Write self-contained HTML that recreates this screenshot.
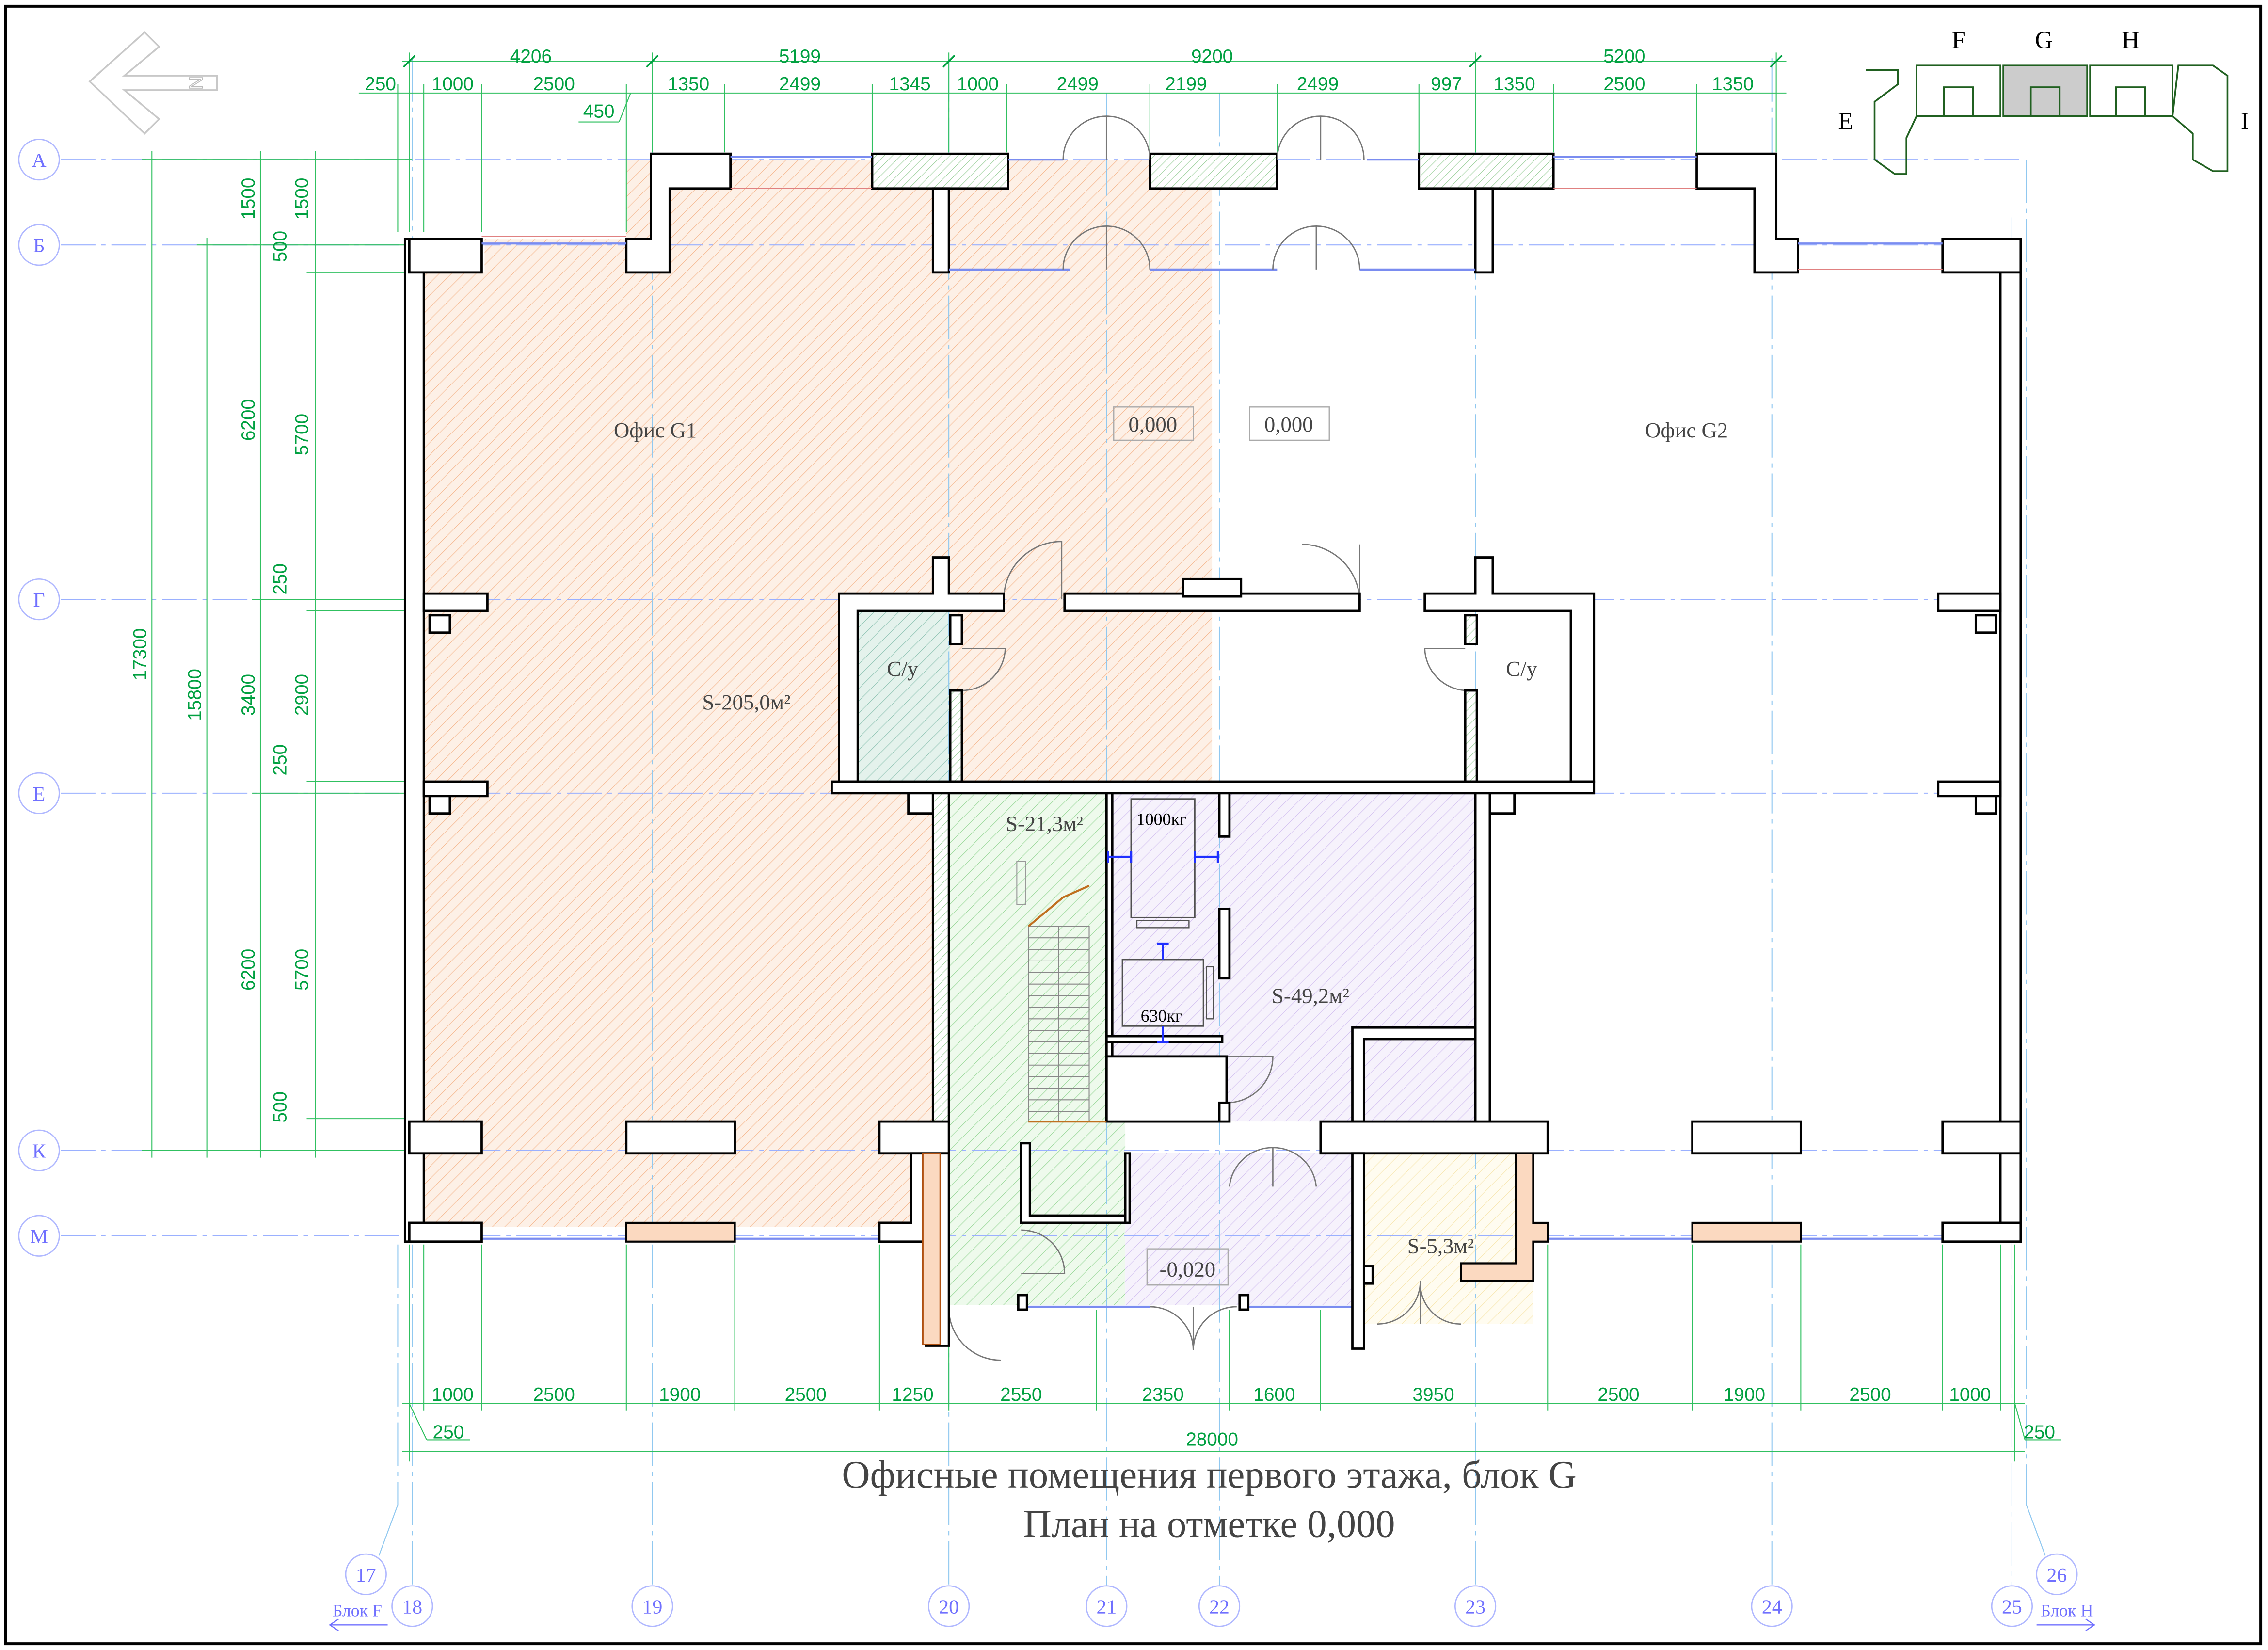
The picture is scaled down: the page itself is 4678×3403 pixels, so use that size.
<!DOCTYPE html>
<html><head><meta charset="utf-8"><style>
html,body{margin:0;padding:0;background:#fff}
svg{display:block}
.d{font-family:"Liberation Sans",sans-serif;font-size:13px;fill:#00a040;text-anchor:middle}
.t{font-family:"Liberation Serif",serif;fill:#444;text-anchor:middle}
.b{font-family:"Liberation Serif",serif;font-size:14px;fill:#7070ff;text-anchor:middle}
.w{fill:#fff;stroke:#000;stroke-width:1.6}
.wh{fill:url(#wh);stroke:#000;stroke-width:1.6}
.gl{stroke:#30c060;stroke-width:0.7}
</style></head><body>
<svg width="4678" height="3403" viewBox="0 0 1568 1140" xmlns="http://www.w3.org/2000/svg">
<defs>
<pattern id="ho" width="6" height="6" patternUnits="userSpaceOnUse" patternTransform="rotate(45)"><rect width="6" height="6" fill="#fdf0e6"/><line x1="0" y1="0" x2="0" y2="6" stroke="#f5b890" stroke-width="0.8"/></pattern>
<pattern id="hg" width="6" height="6" patternUnits="userSpaceOnUse" patternTransform="rotate(45)"><rect width="6" height="6" fill="#eefaec"/><line x1="0" y1="0" x2="0" y2="6" stroke="#9ad89a" stroke-width="0.8"/></pattern>
<pattern id="hp" width="6" height="6" patternUnits="userSpaceOnUse" patternTransform="rotate(45)"><rect width="6" height="6" fill="#f6f2fc"/><line x1="0" y1="0" x2="0" y2="6" stroke="#d4c2f0" stroke-width="0.8"/></pattern>
<pattern id="ht" width="6" height="6" patternUnits="userSpaceOnUse" patternTransform="rotate(45)"><rect width="6" height="6" fill="#e4f2ec"/><line x1="0" y1="0" x2="0" y2="6" stroke="#90c4b4" stroke-width="0.8"/></pattern>
<pattern id="hy" width="6" height="6" patternUnits="userSpaceOnUse" patternTransform="rotate(45)"><rect width="6" height="6" fill="#fffcf0"/><line x1="0" y1="0" x2="0" y2="6" stroke="#f7e6b0" stroke-width="0.8"/></pattern>
<pattern id="wh" width="4" height="4" patternUnits="userSpaceOnUse" patternTransform="rotate(45)"><rect width="4" height="4" fill="#fff"/><line x1="0" y1="0" x2="0" y2="4" stroke="#9cd09c" stroke-width="0.8"/></pattern>
</defs>
<rect x="0" y="0" width="1568" height="1140" fill="#fff"/>
<rect x="4" y="4" width="1559" height="1132" fill="none" stroke="#000" stroke-width="2"/>

<polygon points="293,188 335,188 335,165 433,165 433,110 838,110 838,540 645,540 645,848 293,848" fill="url(#ho)"/>
<rect x="593" y="422" width="64" height="118" fill="url(#ht)"/>
<rect x="656" y="548" width="122" height="354" fill="url(#hg)"/>
<polygon points="765,548 1020,548 1020,775 765,775" fill="url(#hp)"/>
<rect x="778" y="797" width="162" height="105" fill="url(#hp)"/>
<rect x="940" y="797" width="120" height="118" fill="url(#hy)"/>

<g stroke="#9ab0ff" stroke-width="0.7" stroke-dasharray="24 4 3 4">
<line x1="42" y1="110" x2="1400" y2="110"/><line x1="42" y1="169" x2="1400" y2="169"/>
<line x1="42" y1="414" x2="1400" y2="414"/><line x1="42" y1="548" x2="1400" y2="548"/>
<line x1="42" y1="795" x2="1400" y2="795"/><line x1="42" y1="854" x2="1400" y2="854"/>
</g>
<g stroke="#90c8f0" stroke-width="0.7" stroke-dasharray="30 4 3 4">
<line x1="285" y1="40" x2="285" y2="1096"/><line x1="451" y1="40" x2="451" y2="1096"/>
<line x1="656" y1="40" x2="656" y2="1096"/><line x1="765" y1="64" x2="765" y2="1096"/>
<line x1="843" y1="64" x2="843" y2="1096"/><line x1="1020" y1="40" x2="1020" y2="1096"/>
<line x1="1225" y1="40" x2="1225" y2="1096"/><line x1="1391" y1="150" x2="1391" y2="1096"/>
<line x1="275" y1="860" x2="275" y2="1040"/><line x1="1401" y1="110" x2="1401" y2="1040"/>
</g>
<line x1="275" y1="1040" x2="262" y2="1075" stroke="#90c8f0" stroke-width="0.7"/>
<line x1="1401" y1="1040" x2="1414" y2="1075" stroke="#90c8f0" stroke-width="0.7"/>

<g class="gl">
<line x1="278" y1="42" x2="1235" y2="42"/><line x1="248" y1="64" x2="1235" y2="64"/>
<line x1="283" y1="36" x2="283" y2="160"/><line x1="451" y1="36" x2="451" y2="105"/>
<line x1="656" y1="36" x2="656" y2="105"/><line x1="1020" y1="36" x2="1020" y2="105"/>
<line x1="1228" y1="36" x2="1228" y2="105"/>
<line x1="275" y1="58" x2="275" y2="160"/><line x1="293" y1="58" x2="293" y2="160"/>
<line x1="333" y1="58" x2="333" y2="160"/><line x1="433" y1="58" x2="433" y2="160"/>
<line x1="501" y1="58" x2="501" y2="105"/><line x1="603" y1="58" x2="603" y2="105"/>
<line x1="696" y1="58" x2="696" y2="105"/><line x1="795" y1="58" x2="795" y2="105"/>
<line x1="883" y1="58" x2="883" y2="105"/><line x1="981" y1="58" x2="981" y2="105"/>
<line x1="1074" y1="58" x2="1074" y2="105"/><line x1="1173" y1="58" x2="1173" y2="105"/>
<line x1="400" y1="84" x2="428" y2="84"/><line x1="428" y1="84" x2="436" y2="64"/>
<line x1="105" y1="104" x2="105" y2="800"/><line x1="143" y1="164" x2="143" y2="800"/>
<line x1="180" y1="104" x2="180" y2="800"/><line x1="218" y1="104" x2="218" y2="800"/>
<line x1="98" y1="110" x2="285" y2="110"/><line x1="136" y1="169" x2="285" y2="169"/>
<line x1="98" y1="795" x2="285" y2="795"/><line x1="174" y1="414" x2="285" y2="414"/>
<line x1="174" y1="548" x2="285" y2="548"/><line x1="212" y1="188" x2="285" y2="188"/>
<line x1="212" y1="422" x2="285" y2="422"/><line x1="212" y1="540" x2="285" y2="540"/>
<line x1="212" y1="773" x2="285" y2="773"/>
<line x1="278" y1="970" x2="1400" y2="970"/><line x1="278" y1="1003" x2="1400" y2="1003"/>
<line x1="283" y1="860" x2="283" y2="1010"/><line x1="293" y1="860" x2="293" y2="975"/>
<line x1="333" y1="860" x2="333" y2="975"/><line x1="433" y1="860" x2="433" y2="975"/>
<line x1="508" y1="860" x2="508" y2="975"/><line x1="608" y1="860" x2="608" y2="975"/>
<line x1="656" y1="905" x2="656" y2="975"/><line x1="758" y1="905" x2="758" y2="975"/>
<line x1="850" y1="905" x2="850" y2="975"/><line x1="913" y1="905" x2="913" y2="975"/>
<line x1="1070" y1="860" x2="1070" y2="975"/><line x1="1170" y1="860" x2="1170" y2="975"/>
<line x1="1245" y1="860" x2="1245" y2="975"/><line x1="1343" y1="860" x2="1343" y2="975"/>
<line x1="1383" y1="860" x2="1383" y2="975"/><line x1="1393" y1="860" x2="1393" y2="1010"/>
<line x1="283" y1="970" x2="295" y2="995"/><line x1="295" y1="995" x2="325" y2="995"/>
<line x1="1393" y1="970" x2="1400" y2="995"/><line x1="1400" y1="995" x2="1425" y2="995"/>
</g>
<g stroke="#00a040" stroke-width="1.2">
<line x1="279" y1="46" x2="287" y2="38"/><line x1="447" y1="46" x2="455" y2="38"/><line x1="652" y1="46" x2="660" y2="38"/><line x1="1016" y1="46" x2="1024" y2="38"/><line x1="1224" y1="46" x2="1232" y2="38"/>
</g>

<g class="d">
<text x="367" y="43">4206</text><text x="553" y="43">5199</text><text x="838" y="43">9200</text><text x="1123" y="43">5200</text>
<text x="263" y="62">250</text><text x="313" y="62">1000</text><text x="383" y="62">2500</text><text x="476" y="62">1350</text>
<text x="553" y="62">2499</text><text x="629" y="62">1345</text><text x="676" y="62">1000</text><text x="745" y="62">2499</text>
<text x="820" y="62">2199</text><text x="911" y="62">2499</text><text x="1000" y="62">997</text><text x="1047" y="62">1350</text>
<text x="1123" y="62">2500</text><text x="1198" y="62">1350</text><text x="414" y="81">450</text>
<text x="313" y="968">1000</text><text x="383" y="968">2500</text><text x="470" y="968">1900</text><text x="557" y="968">2500</text>
<text x="631" y="968">1250</text><text x="706" y="968">2550</text><text x="804" y="968">2350</text><text x="881" y="968">1600</text>
<text x="991" y="968">3950</text><text x="1119" y="968">2500</text><text x="1206" y="968">1900</text><text x="1293" y="968">2500</text>
<text x="1362" y="968">1000</text><text x="310" y="994">250</text><text x="1410" y="994">250</text><text x="838" y="999">28000</text>
<text transform="translate(101,452) rotate(-90)">17300</text>
<text transform="translate(139,480) rotate(-90)">15800</text>
<text transform="translate(176,137) rotate(-90)">1500</text>
<text transform="translate(176,290) rotate(-90)">6200</text>
<text transform="translate(176,480) rotate(-90)">3400</text>
<text transform="translate(176,670) rotate(-90)">6200</text>
<text transform="translate(213,137) rotate(-90)">1500</text>
<text transform="translate(198,170) rotate(-90)">500</text>
<text transform="translate(213,300) rotate(-90)">5700</text>
<text transform="translate(198,400) rotate(-90)">250</text>
<text transform="translate(213,480) rotate(-90)">2900</text>
<text transform="translate(198,525) rotate(-90)">250</text>
<text transform="translate(213,670) rotate(-90)">5700</text>
<text transform="translate(198,765) rotate(-90)">500</text>
</g>

<g>
<rect class="w" x="280" y="165" width="13" height="693"/>
<rect class="w" x="1383" y="165" width="14" height="693"/>
<rect class="w" x="283" y="165" width="50" height="23"/>
<rect class="w" x="1343" y="165" width="54" height="23"/>
<path class="w" d="M433,165 H450 V106 H505 V130 H463 V188 H433 Z"/>
<path class="w" d="M1173,106 H1228 V165 H1243 V188 H1213 V130 H1173 Z"/>
<rect class="wh" x="603" y="106" width="94" height="24"/>
<rect class="wh" x="795" y="106" width="88" height="24"/>
<rect class="wh" x="981" y="106" width="93" height="24"/>
<rect class="w" x="645" y="130" width="11" height="58"/>
<rect class="w" x="1020" y="130" width="12" height="58"/>
<g stroke="#7a8cf0" stroke-width="1.4">
<line x1="505" y1="108" x2="603" y2="108"/><line x1="697" y1="110" x2="735" y2="110"/>
<line x1="945" y1="110" x2="981" y2="110"/><line x1="1074" y1="108" x2="1173" y2="108"/>
<line x1="333" y1="168" x2="433" y2="168"/><line x1="1243" y1="168" x2="1343" y2="168"/>
<line x1="656" y1="186" x2="740" y2="186"/><line x1="795" y1="186" x2="883" y2="186"/><line x1="940" y1="186" x2="1020" y2="186"/>
<line x1="333" y1="856" x2="433" y2="856"/><line x1="508" y1="856" x2="608" y2="856"/>
<line x1="1070" y1="856" x2="1170" y2="856"/><line x1="1245" y1="856" x2="1343" y2="856"/>
<line x1="710" y1="903" x2="795" y2="903"/><line x1="862" y1="903" x2="935" y2="903"/>
</g>
<g stroke="#e08080" stroke-width="0.8">
<line x1="505" y1="130" x2="603" y2="130"/><line x1="1074" y1="130" x2="1173" y2="130"/>
<line x1="1243" y1="186" x2="1343" y2="186"/><line x1="333" y1="163" x2="433" y2="163"/>
</g>
<g fill="none" stroke="#777" stroke-width="0.9">
<path d="M735,110 A30,30 0 0 1 765,80 V110"/><path d="M795,110 A30,30 0 0 0 765,80"/>
<path d="M883,110 A30,30 0 0 1 913,80 V110"/><path d="M943,110 A30,30 0 0 0 913,80"/>
<path d="M735,186 A30,30 0 0 1 765,156 V186"/><path d="M795,186 A30,30 0 0 0 765,156"/>
<path d="M880,186 A30,30 0 0 1 910,156 V186"/><path d="M940,186 A30,30 0 0 0 910,156"/>
<path d="M694,414 A40,40 0 0 1 734,374 V414"/><path d="M940,414 A40,40 0 0 0 900,376 M940,376 V414"/>
<path d="M665,477 A30,30 0 0 0 695,448 H665"/><path d="M1013,477 A30,30 0 0 1 985,448 H1013"/>
<path d="M848,730 H880 A32,32 0 0 1 848,762"/>
<path d="M850,820 A30,30 0 0 1 880,793 V820 M910,820 A30,30 0 0 0 880,793"/>
<path d="M706,850 A30,30 0 0 1 736,880 H706"/>
<path d="M656,903 A36,36 0 0 0 692,940"/>
<path d="M795,903 A30,30 0 0 1 825,933 V903 M855,903 A30,30 0 0 0 825,933"/>
<path d="M952,915 A30,30 0 0 0 982,885 V915 M1010,915 A28,28 0 0 1 982,885"/>
</g>
<path class="w" d="M580,410 H645 V385 H656 V410 H694 V422 H593 V540 H580 Z"/>
<rect class="w" x="736" y="410" width="204" height="12"/>
<rect class="w" x="818" y="400" width="40" height="12"/>
<path class="w" d="M985,410 H1020 V385 H1032 V410 H1102 V540 H1086 V422 H985 Z"/>
<rect class="w" x="293" y="410" width="44" height="12"/><rect class="w" x="1340" y="410" width="43" height="12"/>
<rect class="w" x="297" y="425" width="14" height="12"/><rect class="w" x="1366" y="425" width="14" height="12"/>
<rect class="w" x="657" y="425" width="8" height="20"/><rect class="wh" x="657" y="477" width="8" height="63"/>
<rect class="wh" x="1013" y="425" width="8" height="20"/><rect class="wh" x="1013" y="477" width="8" height="63"/>
<rect class="w" x="575" y="540" width="527" height="8"/>
<rect class="w" x="293" y="540" width="44" height="10"/><rect class="w" x="1340" y="540" width="43" height="10"/>
<rect class="w" x="297" y="550" width="14" height="12"/><rect class="w" x="1366" y="550" width="14" height="12"/>
<rect class="w" x="628" y="548" width="17" height="14"/><rect class="w" x="1030" y="548" width="17" height="14"/>
<rect class="wh" x="645" y="548" width="11" height="250"/>
<rect class="w" x="1020" y="548" width="10" height="230"/>
<rect class="w" x="765" y="548" width="4" height="227"/>
<rect class="w" x="843" y="548" width="7" height="30"/>
<rect class="w" x="843" y="628" width="7" height="48"/>
<rect class="w" x="765" y="716" width="80" height="4"/>
<rect class="w" x="765" y="730" width="83" height="45"/>
<rect class="w" x="843" y="762" width="7" height="13"/>
<path class="w" d="M935,710 H1020 V718 H943 V775 H935 Z"/>
<rect x="782" y="552" width="44" height="82" fill="none" stroke="#505050" stroke-width="1"/>
<rect x="786" y="636" width="36" height="5" fill="none" stroke="#505050" stroke-width="0.8"/>
<rect x="776" y="663" width="56" height="46" fill="none" stroke="#505050" stroke-width="1"/>
<rect x="834" y="668" width="5" height="36" fill="none" stroke="#505050" stroke-width="0.8"/>
<g stroke="#2030ff" stroke-width="1.5">
<line x1="766" y1="592" x2="782" y2="592"/><line x1="766" y1="588" x2="766" y2="596"/><line x1="782" y1="588" x2="782" y2="596"/>
<line x1="826" y1="592" x2="842" y2="592"/><line x1="826" y1="588" x2="826" y2="596"/><line x1="842" y1="588" x2="842" y2="596"/>
<line x1="804" y1="652" x2="804" y2="663"/><line x1="800" y1="652" x2="808" y2="652"/>
<line x1="804" y1="709" x2="804" y2="720"/><line x1="800" y1="720" x2="808" y2="720"/>
</g>
<g stroke="#888" stroke-width="0.7" fill="none">
<rect x="711" y="640" width="42" height="135"/>
<path d="M711,648 H753 M711,656 H753 M711,664 H753 M711,672 H753 M711,680 H753 M711,688 H753 M711,696 H753 M711,704 H753 M711,712 H753 M711,720 H753 M711,728 H753 M711,736 H753 M711,744 H753 M711,752 H753 M711,760 H753 M711,768 H753"/>
<line x1="732" y1="640" x2="732" y2="775"/>
</g>
<path d="M711,640 L735,620 L753,612" stroke="#c07020" stroke-width="1.4" fill="none"/>
<line x1="711" y1="775" x2="765" y2="775" stroke="#c07020" stroke-width="1.4"/>
<path d="M706,790 V845 H778 V840 H712 V790 Z" class="w"/>
<rect x="703" y="595" width="6" height="30" fill="none" stroke="#999" stroke-width="0.7"/>
<rect class="w" x="283" y="775" width="50" height="22"/>
<rect class="w" x="433" y="775" width="75" height="22"/>
<rect class="w" x="608" y="775" width="48" height="22"/>
<rect class="w" x="913" y="775" width="157" height="22"/>
<rect class="w" x="1170" y="775" width="75" height="22"/>
<rect class="w" x="1343" y="775" width="54" height="22"/>
<rect class="w" x="283" y="845" width="50" height="13"/>
<rect fill="#fbd9c0" stroke="#000" stroke-width="1.4" x="433" y="845" width="75" height="13"/>
<path class="w" d="M608,845 H630 V797 H656 V930 H640 V858 H608 Z"/>
<rect fill="#fbd9c0" stroke="#b05010" stroke-width="1" x="638" y="797" width="12" height="132"/>
<rect fill="#fbd9c0" stroke="#000" stroke-width="1.4" x="1170" y="845" width="75" height="13"/>
<rect class="w" x="1343" y="845" width="54" height="13"/>
<rect class="w" x="935" y="797" width="8" height="135"/>
<rect class="w" x="943" y="875" width="6" height="12"/>
<path d="M1048,797 H1060 V845 H1070 V858 H1060 V885 H1010 V873 H1048 Z" fill="#fbd9c0" stroke="#000" stroke-width="1.4"/>
<rect class="w" x="778" y="797" width="3" height="48"/>
<rect class="w" x="704" y="895" width="6" height="10"/>
<rect class="w" x="857" y="895" width="6" height="10"/>
</g>

<g class="t" font-size="15">
<text x="453" y="302">Офис G1</text><text x="1166" y="302">Офис G2</text>
<text x="624" y="467">С/у</text><text x="1052" y="467">С/у</text>
<text x="516" y="490">S-205,0м²</text><text x="722" y="574">S-21,3м²</text>
<text x="906" y="693">S-49,2м²</text><text x="996" y="866">S-5,3м²</text>
<text x="821" y="882">-0,020</text>
<text x="797" y="298">0,000</text><text x="891" y="298">0,000</text>
</g>
<rect x="770" y="281" width="55" height="23" fill="none" stroke="#aaa" stroke-width="0.8"/>
<rect x="864" y="281" width="55" height="23" fill="none" stroke="#aaa" stroke-width="0.8"/>
<rect x="793" y="863" width="56" height="25" fill="none" stroke="#aaa" stroke-width="0.8"/>
<text x="803" y="570" font-family="Liberation Serif,serif" font-size="12" text-anchor="middle" fill="#000">1000кг</text>
<text x="803" y="706" font-family="Liberation Serif,serif" font-size="12" text-anchor="middle" fill="#000">630кг</text>

<text class="t" x="836" y="1028" font-size="27" fill="#666">Офисные помещения первого этажа, блок G</text>
<text class="t" x="836" y="1062" font-size="27" fill="#666">План на отметке 0,000</text>

<g fill="#fff" stroke="#b0b8ff" stroke-width="0.9">
<circle cx="27" cy="110" r="14"/><circle cx="27" cy="169" r="14"/><circle cx="27" cy="414" r="14"/>
<circle cx="27" cy="548" r="14"/><circle cx="27" cy="795" r="14"/><circle cx="27" cy="854" r="14"/>
<circle cx="285" cy="1110" r="14"/><circle cx="451" cy="1110" r="14"/><circle cx="656" cy="1110" r="14"/>
<circle cx="765" cy="1110" r="14"/><circle cx="843" cy="1110" r="14"/><circle cx="1020" cy="1110" r="14"/>
<circle cx="1225" cy="1110" r="14"/><circle cx="1391" cy="1110" r="14"/>
<circle cx="253" cy="1088" r="14"/><circle cx="1422" cy="1088" r="14"/>
</g>
<g class="b">
<text x="27" y="115">А</text><text x="27" y="174">Б</text><text x="27" y="419">Г</text>
<text x="27" y="553">Е</text><text x="27" y="800">К</text><text x="27" y="859">М</text>
<text x="285" y="1115">18</text><text x="451" y="1115">19</text><text x="656" y="1115">20</text>
<text x="765" y="1115">21</text><text x="843" y="1115">22</text><text x="1020" y="1115">23</text>
<text x="1225" y="1115">24</text><text x="1391" y="1115">25</text>
<text x="253" y="1093">17</text><text x="1422" y="1093">26</text>
<text x="247" y="1117" font-size="12">Блок F</text><text x="1429" y="1117" font-size="12">Блок H</text>
</g>
<g stroke="#7070ff" stroke-width="0.8" fill="none">
<path d="M228,1123 H268 M234,1119 L228,1123 L234,1127"/>
<path d="M1408,1123 H1448 M1442,1119 L1448,1123 L1442,1127"/>
</g>

<g fill="none" stroke="#c8c8c8" stroke-width="1.2">
<path d="M62,56 L100,22 L110,32 L86,52 L150,52 L150,62 L86,62 L110,82 L100,92 Z"/>
</g>
<text transform="translate(140,57) rotate(-90)" font-family="Liberation Sans,sans-serif" font-size="13" fill="none" stroke="#bbb" stroke-width="0.6" text-anchor="middle">N</text>

<g fill="none" stroke="#206020" stroke-width="1.2">
<path d="M1290,48 H1312 V58 L1296,70 V110 L1310,120 H1318 V95 L1325,80"/>
<path d="M1502,80 L1506,45 H1530 L1540,52 V118 H1530 L1516,110 V92 L1502,80"/>
<rect x="1325" y="45" width="58" height="35"/><rect x="1385" y="45" width="58" height="35" fill="#ccc"/><rect x="1445" y="45" width="57" height="35"/>
<rect x="1344" y="60" width="20" height="20"/><rect x="1404" y="60" width="20" height="20"/><rect x="1463" y="60" width="20" height="20"/>
</g>
<g font-family="Liberation Serif,serif" font-size="17" fill="#000" text-anchor="middle">
<text x="1354" y="33">F</text><text x="1413" y="33">G</text><text x="1473" y="33">H</text>
<text x="1276" y="89">E</text><text x="1552" y="89">I</text>
</g>
</svg>
</body></html>
